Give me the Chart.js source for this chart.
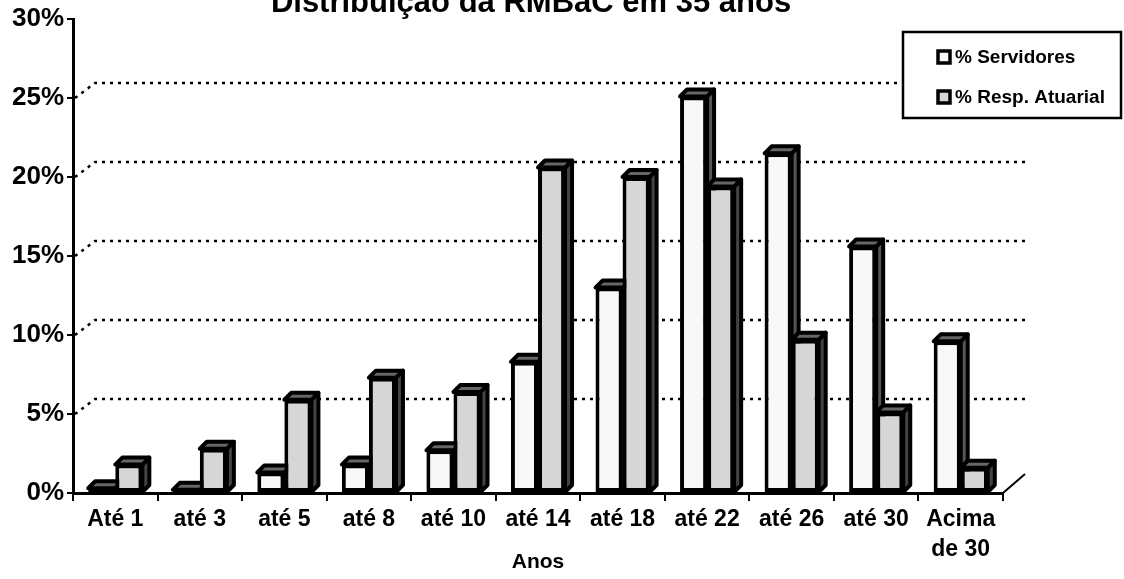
<!DOCTYPE html>
<html lang="pt">
<head>
<meta charset="utf-8">
<title>Distribuição da RMBaC em 35 anos</title>
<script src="https://cdn.jsdelivr.net/npm/chart.js@4.4.1/dist/chart.umd.min.js"></script>
<style>
    html, body { margin: 0; padding: 0; background: #ffffff; }
    canvas { display: block; }
</style>
</head>
<body>
<canvas id="rmbacChart" width="1124" height="579"></canvas>
<script>
// ========================================
// Data
// ========================================
const categories = ['Até 1', 'até 3', 'até 5', 'até 8', 'até 10', 'até 14', 'até 18', 'até 22', 'até 26', 'até 30', ['Acima', 'de 30']];
const servidores = [0.3, 0.2, 1.3, 1.8, 2.7, 8.3, 13.0, 25.1, 21.5, 15.6, 9.6];
const respAtuarial = [1.8, 2.8, 5.9, 7.3, 6.4, 20.6, 20.0, 19.4, 9.7, 5.1, 1.6];
const seriesNames = ['% Servidores', '% Resp. Atuarial'];
const gridValues = [5, 10, 15, 20, 25];

const FONT = "'Liberation Sans', Arial, sans-serif";
const FRONT_COLORS = ['#f8f8f8', '#d6d6d6'];
const SIDE_COLORS = ['#555555', '#444444'];
const TOP_COLOR = '#666666';

// 3D look
const DEPTH_X = 7;
const DEPTH_Y = 7;
const WALL_X = 22;
const WALL_Y = 15;
const WALL_RIGHT = 1025;

Chart.defaults.font.family = FONT;
Chart.defaults.color = '#000';

// Back wall dotted grid + bar side/top faces
const wallPlugin = {
    id: 'wall',
    beforeDatasetsDraw(chart) {
        const { ctx, chartArea, scales } = chart;
        const y = scales.y;
        ctx.save();

        // dotted gridlines on the back wall
        ctx.strokeStyle = '#000';
        ctx.lineWidth = 2.5;
        ctx.setLineDash([3, 5]);
        gridValues.forEach(v => {
            const py = y.getPixelForValue(v);
            ctx.beginPath();
            ctx.moveTo(chartArea.left + 2, py);
            ctx.lineTo(chartArea.left + WALL_X, py - WALL_Y);
            ctx.lineTo(WALL_RIGHT, py - WALL_Y);
            ctx.stroke();
        });
        ctx.setLineDash([]);

        // floor edge on the right
        const floorY = y.getPixelForValue(0);
        ctx.lineWidth = 2;
        ctx.beginPath();
        ctx.moveTo(chartArea.right, floorY);
        ctx.lineTo(chartArea.right + WALL_X, floorY - WALL_Y - 4);
        ctx.stroke();

        // top and side faces of each bar
        ctx.lineWidth = 4;
        ctx.lineJoin = 'round';
        const metas = chart.data.datasets.map((ds, i) => chart.getDatasetMeta(i));
        categories.forEach((cat, i) => {
            metas.forEach((meta, d) => {
                const bar = meta.data[i];
                if (!bar) return;
                const p = bar.getProps(['x', 'y', 'base', 'width'], true);
                const left = p.x - p.width / 2;
                const right = p.x + p.width / 2;

                ctx.fillStyle = SIDE_COLORS[d];
                ctx.beginPath();
                ctx.moveTo(right, p.y);
                ctx.lineTo(right + DEPTH_X, p.y - DEPTH_Y);
                ctx.lineTo(right + DEPTH_X, p.base - DEPTH_Y);
                ctx.lineTo(right, p.base);
                ctx.closePath();
                ctx.fill();
                ctx.stroke();

                ctx.fillStyle = TOP_COLOR;
                ctx.beginPath();
                ctx.moveTo(left, p.y);
                ctx.lineTo(left + DEPTH_X, p.y - DEPTH_Y);
                ctx.lineTo(right + DEPTH_X, p.y - DEPTH_Y);
                ctx.lineTo(right, p.y);
                ctx.closePath();
                ctx.fill();
                ctx.stroke();
            });
        });
        ctx.restore();
    }
};

// Title (cut at the top) and boxed legend
const overlayPlugin = {
    id: 'overlay',
    afterDraw(chart) {
        const ctx = chart.ctx;
        ctx.save();

        ctx.fillStyle = '#000';
        ctx.font = 'bold 31px ' + FONT;
        ctx.textAlign = 'center';
        ctx.textBaseline = 'alphabetic';
        ctx.fillText('Distribuição da RMBaC em 35 anos', 531, 12);

        // legend box
        ctx.fillStyle = '#fff';
        ctx.fillRect(903, 32, 218, 86);
        ctx.strokeStyle = '#000';
        ctx.lineWidth = 2.5;
        ctx.strokeRect(903, 32, 218, 86);

        ctx.font = 'bold 19px ' + FONT;
        ctx.textAlign = 'left';
        ctx.textBaseline = 'middle';
        seriesNames.forEach((name, i) => {
            const cy = 57 + i * 40;
            ctx.fillStyle = FRONT_COLORS[i];
            ctx.fillRect(938, cy - 6, 12, 12);
            ctx.lineWidth = 3.5;
            ctx.strokeRect(938, cy - 6, 12, 12);
            ctx.fillStyle = '#000';
            ctx.fillText(name, 955, cy + 1);
        });
        ctx.restore();
    }
};

// ========================================
// Chart
// ========================================
document.addEventListener('DOMContentLoaded', function () {
    const chartCtx = document.getElementById('rmbacChart');

    new Chart(chartCtx, {
        type: 'bar',
        data: {
            labels: categories,
            datasets: [
                {
                    label: seriesNames[0],
                    data: servidores,
                    backgroundColor: FRONT_COLORS[0],
                    borderColor: '#000',
                    borderWidth: 4,
                    borderSkipped: false
                },
                {
                    label: seriesNames[1],
                    data: respAtuarial,
                    backgroundColor: FRONT_COLORS[1],
                    borderColor: '#000',
                    borderWidth: 4,
                    borderSkipped: false
                }
            ]
        },
        options: {
            responsive: false,
            animation: false,
            events: [],
            categoryPercentage: 0.64,
            barPercentage: 1.0,
            layout: {
                padding: { top: 19, right: 121, left: 0, bottom: 0 }
            },
            plugins: {
                legend: { display: false },
                title: { display: false },
                tooltip: { enabled: false }
            },
            scales: {
                x: {
                    ticks: {
                        color: '#000',
                        font: { size: 23, weight: 'bold', lineHeight: 1.3 },
                        padding: 4,
                        maxRotation: 0,
                        autoSkip: false
                    },
                    grid: {
                        drawOnChartArea: false,
                        tickLength: 8,
                        color: '#000',
                        lineWidth: 2,
                        offset: true
                    },
                    border: { color: '#000', width: 3 },
                    title: {
                        display: true,
                        text: 'Anos',
                        color: '#000',
                        font: { size: 21, weight: 'bold' },
                        padding: { top: 0, bottom: 4 }
                    },
                    afterFit(scale) {
                        scale.height = 86;
                    }
                },
                y: {
                    min: 0,
                    max: 30,
                    ticks: {
                        stepSize: 5,
                        color: '#000',
                        font: { size: 26, weight: 'bold' },
                        padding: 3,
                        callback: v => v + '%'
                    },
                    grid: {
                        drawOnChartArea: false,
                        tickLength: 6,
                        color: '#000',
                        lineWidth: 2
                    },
                    border: { color: '#000', width: 3 },
                    afterFit(scale) {
                        scale.width = 73;
                    }
                }
            }
        },
        plugins: [wallPlugin, overlayPlugin]
    });
});
</script>
</body>
</html>
